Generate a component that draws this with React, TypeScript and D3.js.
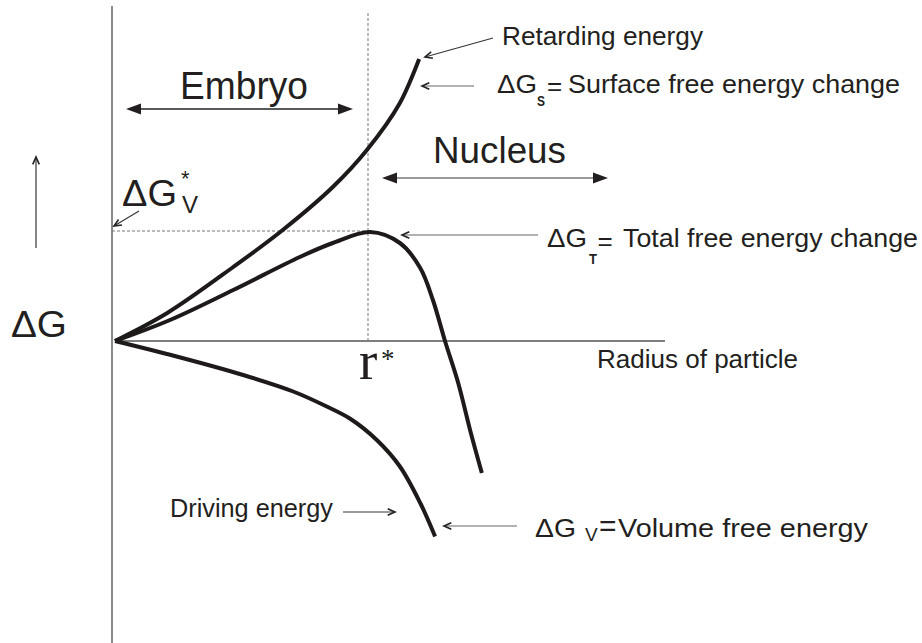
import React from "react";
import * as d3 from "d3";

// ---- data (radius r, free energy ΔG in arbitrary units) ----
const surfaceR = [0, 0.95, 2.15, 3.05, 3.96, 4.58, 5.18, 5.53];
const surfaceG = [0, 0.56, 1.48, 2.22, 3.08, 3.82, 4.76, 5.64];

const totalR = [0, 1.0, 2.15, 3.36, 3.96, 4.64, 5.18, 5.55, 5.78, 6.0, 6.24, 6.47, 6.67];
const totalG = [0, 0.42, 1.02, 1.68, 1.96, 2.18, 1.96, 1.46, 0.82, 0, -0.84, -1.84, -2.64];

const volumeR = [0, 1.12, 2.33, 3.24, 3.85, 4.27, 4.76, 5.18, 5.55, 5.82];
const volumeG = [0, -0.31, -0.68, -1.01, -1.31, -1.55, -1.98, -2.51, -3.24, -3.91];

const rStar = 4.6;
const gStar = 2.2;
const rMax = 10;

const W = 922;
const H = 643;
const FONT = "'Liberation Sans', Arial, sans-serif";
const INK = "#231f20";

const x = d3.scaleLinear().domain([0, rMax]).range([115, 665]);
const y = d3.scaleLinear().domain([-6, 6]).range([641, 41]);

const line = d3
  .line<[number, number]>()
  .x((d) => x(d[0]))
  .y((d) => y(d[1]))
  .curve(d3.curveCatmullRom.alpha(0.5));

const zip = (a: number[], b: number[]) => a.map((v, i) => [v, b[i]] as [number, number]);

function OpenArrow({ x1, y1, x2, y2, color = "#333", w = 1.1 }: any) {
  const a = Math.atan2(y2 - y1, x2 - x1);
  const L = 8;
  const s = 0.42;
  const p1 = [x2 - L * Math.cos(a - s), y2 - L * Math.sin(a - s)];
  const p2 = [x2 - L * Math.cos(a + s), y2 - L * Math.sin(a + s)];
  return (
    <g stroke={color} strokeWidth={w} fill="none">
      <line x1={x1} y1={y1} x2={x2} y2={y2} />
      <polyline points={`${p1[0]},${p1[1]} ${x2},${y2} ${p2[0]},${p2[1]}`} strokeWidth={1.6} stroke="#222" />
    </g>
  );
}

function DoubleArrow({ xa, xb, yy, color = "#222" }: any) {
  const L = 15;
  const h = 5.5;
  return (
    <g>
      <line x1={xa + L - 1} y1={yy} x2={xb - L + 1} y2={yy} stroke={color} strokeWidth={1.6} />
      <path d={`M${xa},${yy} L${xa + L},${yy - h} L${xa + L},${yy + h} Z`} fill={INK} />
      <path d={`M${xb},${yy} L${xb - L},${yy - h} L${xb - L},${yy + h} Z`} fill={INK} />
    </g>
  );
}

export default function App() {
  const y0 = y(0);
  return (
    <svg
      width={W}
      height={H}
      style={{ position: "absolute", left: 0, top: 0, background: "#fff" }}
      fontFamily={FONT}
    >
      <rect width={W} height={H} fill="#fff" />
      {/* axes */}
      <line x1={112} y1={6} x2={112} y2={643} stroke="#8a8a8a" strokeWidth={2} />
      <line x1={x(0)} y1={y0} x2={x(rMax)} y2={y0} stroke="#555" strokeWidth={1.3} />

      {/* critical radius guides */}
      <line x1={x(rStar)} y1={13} x2={x(rStar)} y2={y0} stroke="#777" strokeWidth={1} strokeDasharray="3,2" />
      <line x1={112} y1={y(gStar)} x2={x(rStar)} y2={y(gStar)} stroke="#777" strokeWidth={1} strokeDasharray="3,2" />

      {/* curves */}
      <g fill="none" stroke="#1e1a1a" strokeWidth={4}>
        <path d={line(zip(surfaceR, surfaceG)) || ""} />
        <path d={line(zip(totalR, totalG)) || ""} />
        <path d={line(zip(volumeR, volumeG)) || ""} />
      </g>

      {/* region arrows */}
      <DoubleArrow xa={126} xb={353} yy={109} />
      <DoubleArrow xa={382} xb={608} yy={178} color="#777" />
      <text x={180} y={99} fontSize={38} fill={INK} textLength={128} lengthAdjust="spacingAndGlyphs">Embryo</text>
      <text x={433} y={163} fontSize={36} fill={INK} textLength={133} lengthAdjust="spacingAndGlyphs">Nucleus</text>

      {/* y label */}
      <OpenArrow x1={36} y1={248} x2={36} y2={157} color="#222" />
      <text x={11} y={337} fontSize={37} fill={INK} textLength={56} lengthAdjust="spacingAndGlyphs">ΔG</text>

      {/* ΔG*_V */}
      <text x={122} y={206} fontSize={37} fill={INK} textLength={55} lengthAdjust="spacingAndGlyphs">ΔG</text>
      <text x={181} y={186} fontSize={22} fill={INK}>*</text>
      <text x={182} y={212.5} fontSize={24} fill={INK}>V</text>
      <OpenArrow x1={139} y1={211} x2={114} y2={226} />

      {/* r* */}
      <text x={359} y={379} fontSize={55} fill={INK} fontFamily="'Liberation Serif', 'Times New Roman', serif">r</text>
      <text x={381} y={368} fontSize={27} fill={INK} fontFamily="'Liberation Serif', 'Times New Roman', serif">*</text>

      {/* Retarding energy */}
      <text x={502} y={45} fontSize={25} fill={INK} textLength={201} lengthAdjust="spacingAndGlyphs">Retarding energy</text>
      <OpenArrow x1={493} y1={38} x2={425} y2={57} />

      {/* ΔG_S */}
      <OpenArrow x1={474} y1={86} x2={422} y2={86} color="#666" />
      <text x={497} y={93} fontSize={26} fill={INK} textLength={40} lengthAdjust="spacingAndGlyphs">ΔG</text>
      <text x={537} y={106} fontSize={15} fontWeight="bold" fill={INK} textLength={8} lengthAdjust="spacingAndGlyphs">S</text>
      <text x={547} y={95} fontSize={26} fill={INK}>=</text>
      <text x={568} y={93} fontSize={26} fill={INK} textLength={332} lengthAdjust="spacingAndGlyphs">Surface free energy change</text>

      {/* ΔG_T */}
      <OpenArrow x1={538} y1={235} x2={402} y2={235} color="#666" />
      <text x={547} y={247} fontSize={26} fill={INK} textLength={40} lengthAdjust="spacingAndGlyphs">ΔG</text>
      <text x={589} y={264} fontSize={15} fontWeight="bold" fill={INK} textLength={8} lengthAdjust="spacingAndGlyphs">T</text>
      <text x={597.5} y={250} fontSize={26} fill={INK}>=</text>
      <text x={623} y={247} fontSize={26} fill={INK} textLength={295} lengthAdjust="spacingAndGlyphs">Total free energy change</text>

      {/* Radius of particle */}
      <text x={597} y={368} fontSize={25} fill={INK} textLength={201} lengthAdjust="spacingAndGlyphs">Radius of particle</text>

      {/* Driving energy */}
      <text x={170} y={517} fontSize={25} fill={INK} textLength={163} lengthAdjust="spacingAndGlyphs">Driving energy</text>
      <OpenArrow x1={343} y1={512} x2={395} y2={512} />

      {/* ΔG_V */}
      <OpenArrow x1={517} y1={526} x2={444} y2={526} color="#666" />
      <text x={535} y={537} fontSize={26} fill={INK} textLength={41} lengthAdjust="spacingAndGlyphs">ΔG</text>
      <text x={585} y={541} fontSize={19} fill={INK}>V</text>
      <text x={599} y={536} fontSize={30} fill={INK}>=</text>
      <text x={618} y={537} fontSize={26} fill={INK} textLength={250} lengthAdjust="spacingAndGlyphs">Volume free energy</text>
    </svg>
  );
}
